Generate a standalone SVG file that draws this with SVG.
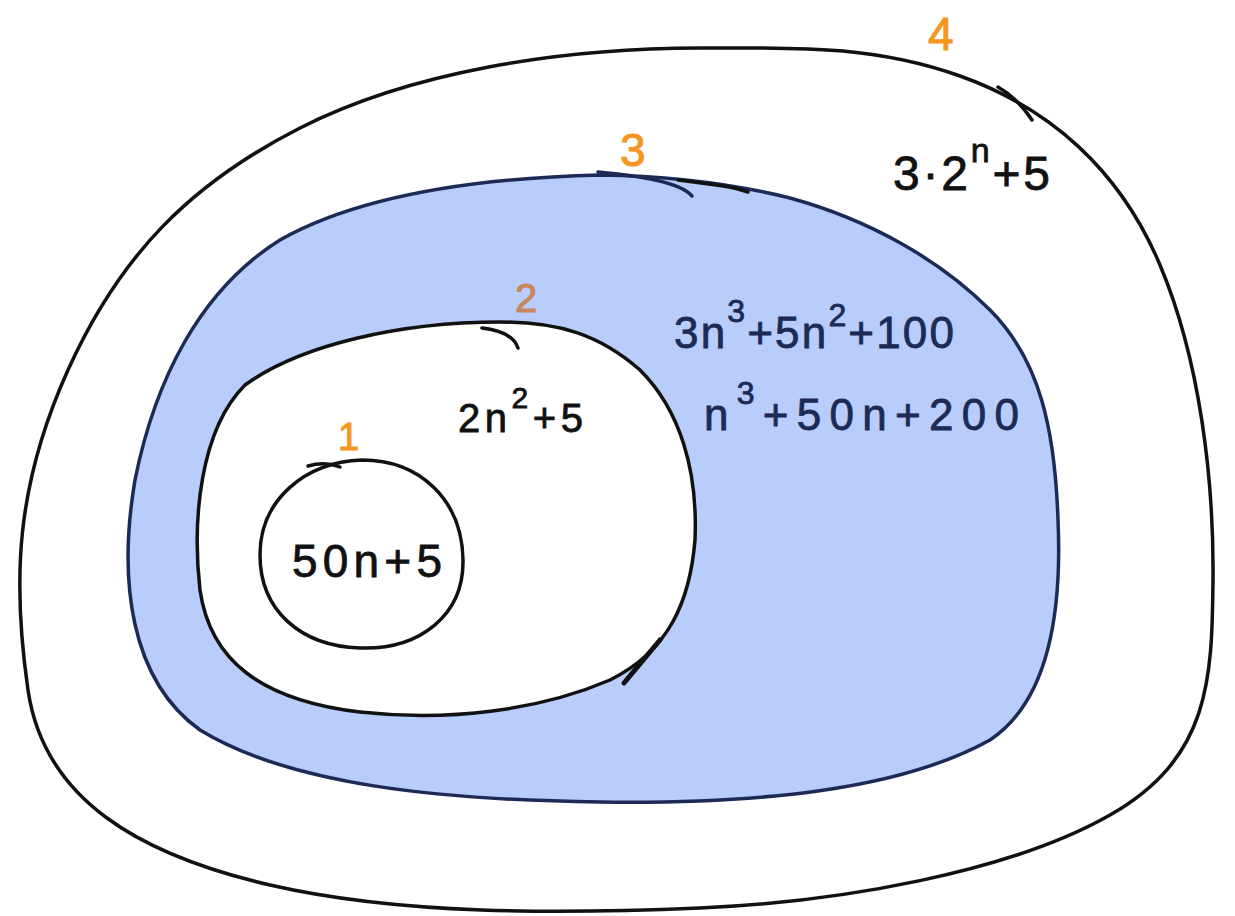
<svg xmlns="http://www.w3.org/2000/svg" width="1235" height="916" viewBox="0 0 1235 916">
<style>
.ln{fill:none;stroke:#111;stroke-width:3.5;stroke-linecap:round;stroke-linejoin:round}
.nv{fill:none;stroke:#1c2a55;stroke-width:3.5;stroke-linecap:round}
.lbl{font-family:"Liberation Sans",Arial,sans-serif;fill:#f5961f;stroke:#f5961f;stroke-width:1}
.tx{font-family:"Liberation Sans",Arial,sans-serif;fill:#111;stroke:#111;stroke-width:0.8}
.txn{font-family:"Liberation Sans",Arial,sans-serif;fill:#1c2a55;stroke:#1c2a55;stroke-width:0.8}
</style>
<rect width="1235" height="916" fill="#fff"/>
<g id="set4">
<path class="ln" d="M700,48 C560,48 410,72 300,128 S120,255 68,370 S12,580 28,690 S140,855 270,885 S560,914 700,908 S1010,872 1110,815 S1212,680 1213,580 S1200,360 1160,265 S1050,108 960,76 S790,48 700,48 Z"/>
<path class="ln" d="M998,87 C1012,95 1024,108 1032,120"/>
<text class="lbl" x="928" y="50" font-size="46">4</text>
<text class="tx" x="893" y="190" font-size="48" textLength="157" lengthAdjust="spacing">3·2<tspan dy="-28" font-size="34">n</tspan><tspan dy="28">+5</tspan></text>
</g>
<g id="set3">
<path d="M600,175 C480,178 360,195 280,240 C200,290 155,380 135,480 C118,580 130,680 200,730 C290,785 440,800 600,802 C760,804 900,790 990,740 C1050,700 1062,610 1058,520 C1055,430 1040,360 990,310 C940,260 870,220 790,198 C730,183 660,176 600,175 Z" fill="#b8cdfb" stroke="#1c2a55" stroke-width="3.5"/>
<path class="nv" d="M598,172 C640,176 680,182 692,196"/>
<path class="ln" d="M678,180 C710,184 730,186 748,192"/>
<text class="lbl" x="620" y="166" font-size="46">3</text>
<text class="txn" x="674" y="348" font-size="44" textLength="280" lengthAdjust="spacing">3n<tspan dy="-26" font-size="32">3</tspan><tspan dy="26">+5n</tspan><tspan dy="-22" font-size="32">2</tspan><tspan dy="22">+100</tspan></text>
<text class="txn" x="704" y="430" font-size="44" textLength="315" lengthAdjust="spacing">n<tspan dy="-26" font-size="32">3</tspan><tspan dy="26">+50n+200</tspan></text>
</g>
<g id="set2">
<path d="M500,322 C400,322 300,345 245,385 C200,430 192,520 200,590 C210,660 260,700 360,712 C450,722 540,710 610,680 C670,650 690,600 695,540 C698,470 680,410 640,370 C600,335 560,322 500,322 Z" fill="#fff" stroke="#111" stroke-width="3.5"/>
<path class="ln" d="M482,328 C500,330 514,336 518,348"/>
<path d="M624,683 L660,640" stroke="#111" stroke-width="5" stroke-linecap="round"/>
<text x="515" y="312" font-size="40" font-family="Liberation Sans,Arial,sans-serif" fill="#c8865a" stroke="#c8865a" stroke-width="1">2</text>
<text class="tx" x="458" y="432" font-size="40" textLength="125" lengthAdjust="spacing">2n<tspan dy="-24" font-size="30">2</tspan><tspan dy="24">+5</tspan></text>
</g>
<g id="set1">
<path class="ln" d="M362,460 C420,460 462,500 463,560 C464,615 420,650 360,648 C300,646 260,610 260,555 C260,500 305,462 362,460 Z"/>
<path class="ln" d="M308,466 C318,463 330,463 340,467"/>
<text class="lbl" x="338" y="450" font-size="38">1</text>
<text class="tx" x="292" y="577" font-size="46" textLength="150" lengthAdjust="spacing">50n+5</text>
</g>
<g id="connectors"></g>
</svg>
